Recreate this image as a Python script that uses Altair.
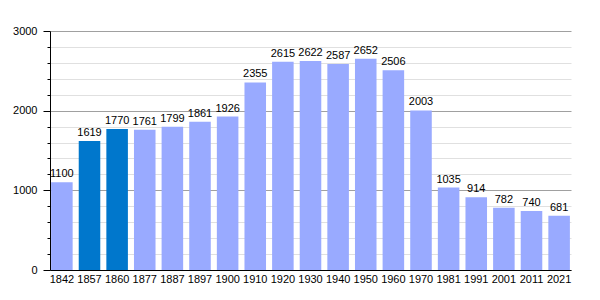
import altair as alt
import pandas as pd

years = ["1842", "1857", "1860", "1877", "1887", "1897", "1900", "1910", "1920", "1930",
         "1940", "1950", "1960", "1970", "1981", "1991", "2001", "2011", "2021"]
population = [1100, 1619, 1770, 1761, 1799, 1861, 1926, 2355, 2615, 2622,
              2587, 2652, 2506, 2003, 1035, 914, 782, 740, 681]
highlight = ["1857", "1860"]

df = pd.DataFrame({"year": years, "pop": population})
df["hl"] = df["year"].isin(highlight)

FONT = "Liberation Sans"
yscale = alt.Scale(domain=[0, 3000], nice=False, zero=True)
xscale = alt.Scale(paddingInner=0.22, paddingOuter=0.04)

x = alt.X("year:N", sort=years, title=None, scale=xscale,
          axis=alt.Axis(labelAngle=0, labelFont=FONT, labelFontSize=11, labelColor="#000",
                        ticks=False, domainColor="#000", labelPadding=3))
y = alt.Y("pop:Q", title=None, scale=yscale,
          axis=alt.Axis(values=[0, 200, 400, 600, 800, 1000, 1200, 1400, 1600, 1800, 2000,
                                2200, 2400, 2600, 2800, 3000],
                        labelExpr="datum.value % 1000 === 0 ? datum.label : ''",
                        labelOverlap=False,
                        format="d",
                        labelFont=FONT, labelFontSize=11, labelColor="#000",
                        domainColor="#000",
                        gridColor={"condition": {"test": "datum.value % 1000 === 0", "value": "#a0a0a0"}, "value": "#e0e0e0"},
                        tickColor="#000",
                        tickSize={"condition": {"test": "datum.value % 1000 === 0", "value": 7}, "value": 3},
                        labelPadding=6))

bars = alt.Chart(df).mark_bar().encode(
    x=x, y=y,
    color=alt.condition("datum.hl", alt.value("#0077cc"), alt.value("#99aaff")),
)
labels = alt.Chart(df).mark_text(baseline="bottom", dy=-3, font=FONT, fontSize=11, color="#000").encode(
    x=x, y=y, text="pop:Q",
)

chart = (bars + labels).properties(
    width=521, height=239,
    autosize=alt.AutoSizeParams(type="none"),
    padding={"left": 50, "top": 31, "right": 29, "bottom": 30},
).configure_view(stroke=None).configure_axis(gridWidth=1)

chart.save("out.html", embed_options={"renderer": "svg", "actions": False})
